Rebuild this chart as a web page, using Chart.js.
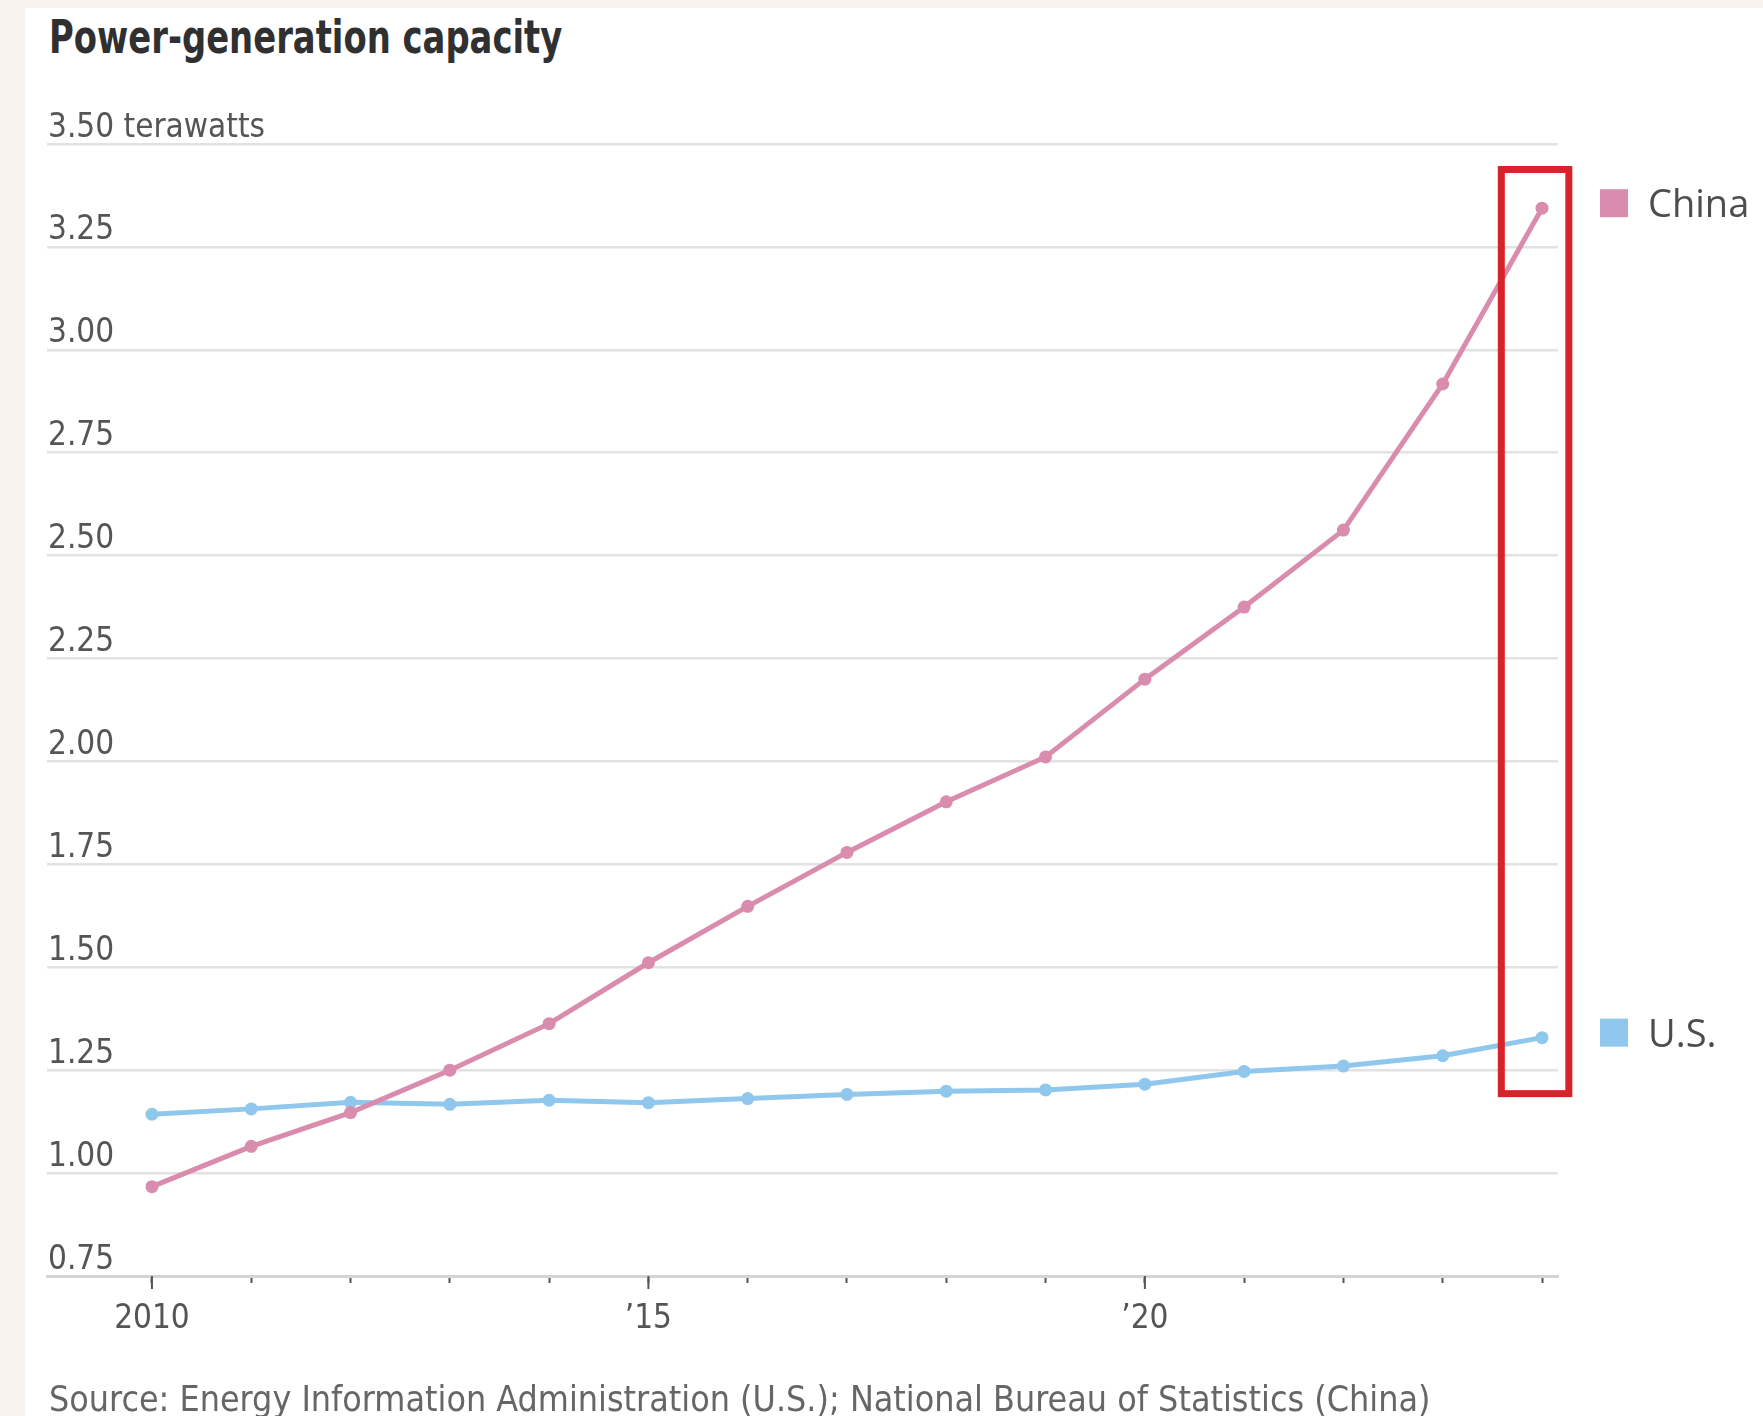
<!DOCTYPE html>
<html>
<head>
<meta charset="utf-8">
<script src="https://cdn.jsdelivr.net/npm/chart.js@4.4.1/dist/chart.umd.min.js"></script>
<style>
  html, body { margin: 0; padding: 0; }
  body { width: 1763px; height: 1416px; background: #f8f3ef; position: relative; overflow: hidden; }
  #card { position: absolute; left: 25px; top: 8px; right: 0; bottom: 0; background: #fff; }
  #title { position: absolute; left: 49px; top: 13px; font: bold 47px 'DejaVu Sans Condensed', 'DejaVu Sans', sans-serif; line-height: 1; color: #303030; white-space: nowrap; transform: scaleX(0.8); transform-origin: left top; }
  #source { position: absolute; left: 49px; top: 1381px; font: 35.5px 'DejaVu Sans Condensed', 'DejaVu Sans', sans-serif; line-height: 1; color: #666; white-space: nowrap; }
  #wrap { position: absolute; left: 0; top: 0; width: 1763px; height: 1416px; }
</style>
</head>
<body>
<div id="card"></div>
<div id="title">Power-generation capacity</div>
<div id="wrap"><canvas id="myChart"></canvas></div>
<div id="source">Source: Energy Information Administration (U.S.); National Bureau of Statistics (China)</div>
<script>
let years = [2010, 2011, 2012, 2013, 2014, 2015, 2016, 2017, 2018, 2019, 2020, 2021, 2022, 2023, 2024];
let china = [0.967, 1.065, 1.147, 1.250, 1.363, 1.511, 1.648, 1.779, 1.902, 2.011, 2.200, 2.375, 2.562, 2.917, 3.344];
let us = [1.143, 1.156, 1.172, 1.167, 1.177, 1.171, 1.181, 1.191, 1.199, 1.202, 1.216, 1.247, 1.260, 1.285, 1.329];
let seriesNames = ['China', 'U.S.'];
let colorHex = ['#d98cad', '#8fc8ec'];
let yTicks = [0.75, 1.00, 1.25, 1.50, 1.75, 2.00, 2.25, 2.50, 2.75, 3.00, 3.25, 3.50];
let xLabels = {2010: '2010', 2015: '\u201915', 2020: '\u201920'};
// red box drawn around the latest year
let highlight = {x0: 2023.59, x1: 2024.27, y0: 1.193, y1: 3.438};

let narrow = "'DejaVu Sans Condensed', 'DejaVu Sans', sans-serif";

let endLabels = {
    id: 'endLabels',
    afterDraw(chart) {
        let ctx = chart.ctx;
        let area = chart.chartArea;
        let xs = chart.scales.x, ys = chart.scales.y;

        ctx.save();
        // labelled years get a longer tick
        ctx.strokeStyle = '#555';
        ctx.lineWidth = 2;
        Object.keys(xLabels).forEach(k => {
            let px = xs.getPixelForValue(Number(k));
            ctx.beginPath();
            ctx.moveTo(px, area.bottom);
            ctx.lineTo(px, area.bottom + 13);
            ctx.stroke();
        });

        ctx.strokeStyle = '#d8232a';
        ctx.lineWidth = 7;
        let l = xs.getPixelForValue(highlight.x0), r = xs.getPixelForValue(highlight.x1);
        let t = ys.getPixelForValue(highlight.y1), b = ys.getPixelForValue(highlight.y0);
        ctx.strokeRect(l, t, r - l, b - t);

        chart.data.datasets.forEach((ds, i) => {
            let meta = chart.getDatasetMeta(i);
            let pt = meta.data[meta.data.length - 1];
            let cy = pt.y - 5;
            ctx.fillStyle = ds.borderColor;
            ctx.fillRect(area.right + 42, cy - 14, 28, 28);
            ctx.fillStyle = '#4d4d4d';
            ctx.font = "38px 'Open Sans'";
            ctx.textBaseline = 'alphabetic';
            ctx.fillText(ds.label, area.right + 90, cy + 14);
        });
        ctx.restore();
    }
};

let ctx = document.getElementById('myChart').getContext('2d');

let myChart = new Chart(ctx, {
    type: 'line',
    data: {
        datasets: [china, us].map((vals, i) => ({
            label: seriesNames[i],
            data: years.map((yr, j) => ({x: yr, y: vals[j]})),
            borderColor: colorHex[i],
            backgroundColor: colorHex[i],
            pointBackgroundColor: colorHex[i],
            borderWidth: 5,
            pointRadius: 6.5,
            pointBorderWidth: 0,
            tension: 0,
            clip: false
        }))
    },
    options: {
        responsive: true,
        maintainAspectRatio: false,
        animation: false,
        events: [],
        layout: { padding: { left: 47, top: 144, right: 205, bottom: 80 } },
        plugins: {
            legend: { display: false },
            tooltip: { enabled: false }
        },
        scales: {
            x: {
                type: 'linear',
                min: 2008.943,
                max: 2024.161,
                afterBuildTicks: s => { s.ticks = years.map(v => ({value: v})); },
                afterFit: s => { s.height = 60; },
                grid: { drawOnChartArea: false, drawTicks: true, tickLength: 7, tickColor: '#555', tickWidth: 2 },
                border: { display: true, color: '#d4d4d4', width: 3 },
                ticks: {
                    autoSkip: false,
                    maxRotation: 0,
                    padding: 17,
                    color: '#555',
                    font: { family: narrow, size: 33 },
                    callback: v => xLabels[v] || ''
                }
            },
            y: {
                min: 0.75,
                max: 3.5,
                afterBuildTicks: s => { s.ticks = yTicks.map(v => ({value: v})); },
                afterFit: s => { s.width = 0; },
                grid: { color: '#e2e2e2', lineWidth: 2.5, drawTicks: false },
                border: { display: false },
                ticks: {
                    mirror: true,
                    padding: 1,
                    labelOffset: -16,
                    color: '#555',
                    font: { family: narrow, size: 33 },
                    callback: v => v === 3.5 ? '3.50 terawatts' : v.toFixed(2)
                }
            }
        }
    },
    plugins: [endLabels]
});
</script>
</body>
</html>
